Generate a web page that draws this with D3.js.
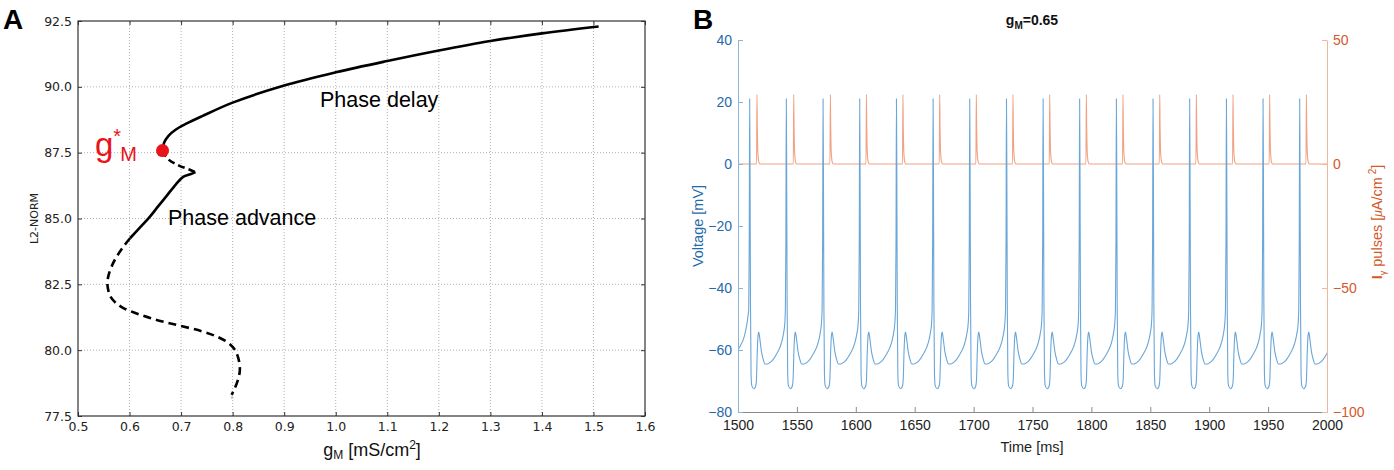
<!DOCTYPE html>
<html><head><meta charset="utf-8">
<script src="https://cdn.jsdelivr.net/npm/d3@7"></script>
<style>body{margin:0;background:#fff} svg{display:block}</style>
</head><body>
<svg id="c" width="1394" height="470"></svg>
<script>
// ---------- Panel A data ----------
const gTicks = [0.5,0.6,0.7,0.8,0.9,1.0,1.1,1.2,1.3,1.4,1.5,1.6];
const normTicks = [77.5,80.0,82.5,85.0,87.5,90.0,92.5];
const upperSolid = [[0.664,87.58],[0.667,87.88],[0.676,88.15],[0.69,88.38],[0.71,88.6],[0.74,88.88],[0.8,89.4],[0.9,90.05],[1.0,90.55],[1.1,90.98],[1.2,91.38],[1.3,91.74],[1.4,92.03],[1.51,92.29]];
const midDashed = [[0.664,87.58],[0.675,87.25],[0.695,87.02],[0.717,86.85],[0.728,86.76]];
const lowerSolid = [[0.728,86.76],[0.718,86.68],[0.704,86.58],[0.69,86.3],[0.672,85.86],[0.655,85.45],[0.64,85.08],[0.62,84.65],[0.601,84.25]];
const lowerDashed = [[0.601,84.25],[0.588,83.93],[0.574,83.52],[0.565,83.17],[0.559,82.82],[0.557,82.54],[0.559,82.25],[0.563,82.03],[0.573,81.8],[0.588,81.6],[0.61,81.42],[0.64,81.22],[0.67,81.06],[0.704,80.9],[0.74,80.72],[0.769,80.52],[0.79,80.3],[0.803,80.05],[0.811,79.7],[0.814,79.25],[0.81,78.85],[0.803,78.5],[0.798,78.3]];
const gStar = [0.664,87.58];
const branchEnd = [0.799,78.2];

// ---------- Panel B data ----------
const timeTicks = [1500,1550,1600,1650,1700,1750,1800,1850,1900,1950,2000];
const voltTicks = [-80,-60,-40,-20,0,20,40];
const pulseTicks = [-100,-50,0,50];
const spikeTimes = [1509.9,1541.0,1572.2,1603.3,1634.5,1665.6,1696.7,1727.9,1759.0,1790.0,1821.2,1852.3,1883.4,1914.6,1945.7,1976.8];
const pulseTimes = [1516.1,1547.3,1578.4,1609.0,1640.0,1671.2,1702.3,1733.4,1764.6,1795.7,1826.8,1858.0,1889.1,1920.2,1951.3,1982.5];
const voltLeadIn = [[1500,-60],[1502,-58.6],[1504.3,-56.8],[1506,-54.6],[1507.7,-51.3],[1508.8,-48]];
const spikeOffsets = [-0.8,-0.35,0,0.3,0.7,1.2,1.8,3.5,5.0,5.7,6.5,7.2,7.7,8.5,10,11.5,13,15,17.5,20,22.5,25.5,27.5,28.8,29.8];
const spikeVolts   = [-47,-25,21,0,-45,-68,-71.5,-72.5,-71.8,-70,-60,-55,-54.2,-56,-60.5,-63,-64.5,-64.5,-64,-63,-61.5,-59.3,-57,-54.5,-51.5];
const pulseOffsets = [-0.35,0,0.3,0.6,1.0,1.5,2.5];
const pulseAmps    = [0,28,15,7,3,1,0];

const svg = d3.select("#c");
const fA = "DejaVu Sans, sans-serif";
const fH = "Liberation Sans, Arial, sans-serif";

// ================= Panel A =================
const xA = d3.scaleLinear().domain([0.5,1.6]).range([78,645]);
const yA = d3.scaleLinear().domain([77.5,92.5]).range([416,21]);
const gA = svg.append("g");

gA.selectAll(".gx").data(gTicks.slice(1,-1)).join("line")
  .attr("x1",d=>xA(d)).attr("x2",d=>xA(d)).attr("y1",yA(77.5)).attr("y2",yA(92.5))
  .attr("stroke","#b0b0b0").attr("stroke-width",1).attr("stroke-dasharray","1,2");
gA.selectAll(".gy").data(normTicks.slice(1,-1)).join("line")
  .attr("y1",d=>yA(d)).attr("y2",d=>yA(d)).attr("x1",xA(0.5)).attr("x2",xA(1.6))
  .attr("stroke","#b0b0b0").attr("stroke-width",1).attr("stroke-dasharray","1,2");

function styleAxisA(g){
  g.select(".domain").remove();
  g.selectAll(".tick line").attr("stroke","#333");
  g.selectAll(".tick text").attr("font-family",fA).attr("font-size",12.5).attr("fill","#222");
}
gA.append("g").attr("transform",`translate(0,${yA(77.5)})`)
  .call(d3.axisBottom(xA).tickValues(gTicks).tickFormat(d3.format(".1f")).tickSizeInner(-4).tickSizeOuter(0).tickPadding(6))
  .call(styleAxisA);
gA.append("g").attr("transform",`translate(${xA(0.5)},0)`)
  .call(d3.axisLeft(yA).tickValues(normTicks).tickFormat(d3.format(".1f")).tickSizeInner(-4).tickSizeOuter(0).tickPadding(6))
  .call(styleAxisA);
gA.append("g").attr("transform",`translate(0,${yA(92.5)})`)
  .call(d3.axisTop(xA).tickValues(gTicks).tickFormat("").tickSizeInner(-4).tickSizeOuter(0))
  .call(styleAxisA);
gA.append("g").attr("transform",`translate(${xA(1.6)},0)`)
  .call(d3.axisRight(yA).tickValues(normTicks).tickFormat("").tickSizeInner(-4).tickSizeOuter(0))
  .call(styleAxisA);
gA.append("rect").attr("x",xA(0.5)).attr("y",yA(92.5))
  .attr("width",xA(1.6)-xA(0.5)).attr("height",yA(77.5)-yA(92.5))
  .attr("fill","none").attr("stroke","#333").attr("stroke-width",1.2);

const lineA = d3.line().x(d=>xA(d[0])).y(d=>yA(d[1])).curve(d3.curveCatmullRom.alpha(0.5));
[[upperSolid,null],[lowerSolid,null],[midDashed,"7,4"],[lowerDashed,"8,5"]].forEach(([data,dash])=>{
  gA.append("path").datum(data).attr("d",lineA).attr("fill","none")
    .attr("stroke","#000").attr("stroke-width",2.6)
    .attr("stroke-dasharray",dash);
});
gA.append("circle").attr("cx",xA(branchEnd[0])).attr("cy",yA(branchEnd[1])).attr("r",1.3).attr("fill","#bbb");
gA.append("circle").attr("cx",xA(gStar[0])).attr("cy",yA(gStar[1])).attr("r",6.5).attr("fill","#e8141c");

const gs = gA.append("text").attr("x",95).attr("y",156).attr("font-family",fH).attr("fill","#e8141c").attr("font-size",33);
gs.append("tspan").text("g");
gs.append("tspan").attr("font-size",20).attr("dy",-13).text("*");
gs.append("tspan").attr("font-size",20).attr("dy",18).attr("dx",-1).text("M");

gA.append("text").attr("x",320).attr("y",107).attr("font-family",fH).attr("font-size",21.5).attr("fill","#000").text("Phase delay");
gA.append("text").attr("x",168).attr("y",225).attr("font-family",fH).attr("font-size",21.5).attr("fill","#000").text("Phase advance");

gA.append("text").attr("transform","translate(38,218.5) rotate(-90)").attr("text-anchor","middle")
  .attr("font-family",fA).attr("font-size",11).attr("fill","#222").text("L2-NORM");

const xl = gA.append("text").attr("x",372).attr("y",456).attr("text-anchor","middle").attr("font-family",fH).attr("font-size",18).attr("fill","#111");
xl.append("tspan").text("g");
xl.append("tspan").attr("font-size",12).attr("dy",3).text("M");
xl.append("tspan").attr("dy",-3).text(" [mS/cm");
xl.append("tspan").attr("font-size",12).attr("dy",-7).text("2");
xl.append("tspan").attr("dy",7).text("]");

svg.append("text").attr("x",3).attr("y",29).attr("font-family",fH).attr("font-weight","bold").attr("font-size",28).text("A");
svg.append("text").attr("x",693).attr("y",29).attr("font-family",fH).attr("font-weight","bold").attr("font-size",28).text("B");

// ================= Panel B =================
const xB = d3.scaleLinear().domain([1500,2000]).range([738,1327]);
const yV = d3.scaleLinear().domain([-80,40]).range([412,40]);
const yI = d3.scaleLinear().domain([-100,50]).range([412,40]);
const gB = svg.append("g");
const cBlue = "#1f6aa8", cBlueLine = "#8ab5da", cOr = "#d4582a", cOrLine = "#f0b79c";

gB.append("clipPath").attr("id","clipB").append("rect")
  .attr("x",xB(1500)).attr("y",yV(40)-2).attr("width",xB(2000)-xB(1500)).attr("height",yV(-80)-yV(40)+2);

const pulsePts = [[1500,0]];
pulseTimes.forEach(p=>pulseOffsets.forEach((o,i)=>pulsePts.push([p+o,pulseAmps[i]])));
pulsePts.push([2000,0]);
const voltPts = voltLeadIn.slice();
spikeTimes.forEach(s=>spikeOffsets.forEach((o,i)=>voltPts.push([s+o,spikeVolts[i]])));

const cg = gB.append("g").attr("clip-path","url(#clipB)");
cg.append("path").datum(pulsePts)
  .attr("d",d3.line().x(d=>xB(d[0])).y(d=>yI(d[1])).curve(d3.curveMonotoneX))
  .attr("fill","none").attr("stroke","#f1a283").attr("stroke-width",1.1);
cg.append("path").datum(voltPts)
  .attr("d",d3.line().x(d=>xB(d[0])).y(d=>yV(d[1])).curve(d3.curveMonotoneX))
  .attr("fill","none").attr("stroke","#6aa6d8").attr("stroke-width",1.1);

const axB = gB.append("g").attr("transform",`translate(0,${yV(-80)})`)
  .call(d3.axisBottom(xB).tickValues(timeTicks).tickFormat(d3.format("d")).tickSizeInner(-5).tickSizeOuter(0).tickPadding(8));
axB.select(".domain").attr("stroke","#8a8a8a");
axB.selectAll(".tick line").attr("stroke","#8a8a8a");
axB.selectAll(".tick text").attr("font-family",fH).attr("font-size",14).attr("fill","#222");

const axL = gB.append("g").attr("transform",`translate(${xB(1500)},0)`)
  .call(d3.axisLeft(yV).tickValues(voltTicks).tickSizeInner(-5).tickSizeOuter(0).tickPadding(6));
axL.select(".domain").attr("stroke",cBlueLine);
axL.selectAll(".tick line").attr("stroke",cBlueLine);
axL.selectAll(".tick text").attr("font-family",fH).attr("font-size",14).attr("fill",cBlue);

const axR = gB.append("g").attr("transform",`translate(${xB(2000)},0)`)
  .call(d3.axisRight(yI).tickValues(pulseTicks).tickSizeInner(-5).tickSizeOuter(0).tickPadding(6));
axR.select(".domain").attr("stroke",cOrLine);
axR.selectAll(".tick line").attr("stroke",cOrLine);
axR.selectAll(".tick text").attr("font-family",fH).attr("font-size",14).attr("fill",cOr);

gB.append("text").attr("x",1032).attr("y",452).attr("text-anchor","middle").attr("font-family",fH).attr("font-size",14.5).attr("fill","#222").text("Time [ms]");
gB.append("text").attr("transform","translate(703,226) rotate(-90)").attr("text-anchor","middle")
  .attr("font-family",fH).attr("font-size",14.5).attr("fill",cBlue).text("Voltage [mV]");
const rl = gB.append("text").attr("transform","translate(1382,222) rotate(-90)").attr("text-anchor","middle")
  .attr("font-family",fH).attr("font-size",14.5).attr("fill",cOr);
rl.append("tspan").attr("font-weight","bold").text("I");
rl.append("tspan").attr("font-size",9).attr("dy",4).text("γ");
rl.append("tspan").attr("dy",-4).text(" pulses [");
rl.append("tspan").attr("font-style","italic").attr("font-size",12).text("μ");
rl.append("tspan").text("A/cm");
rl.append("tspan").attr("font-size",10).attr("dy",-6).text(" 2");
rl.append("tspan").attr("dy",6).text("]");

const tt = gB.append("text").attr("x",1032).attr("y",25).attr("text-anchor","middle").attr("font-family",fH).attr("font-weight","bold").attr("font-size",14).attr("fill","#111");
tt.append("tspan").text("g");
tt.append("tspan").attr("font-size",10).attr("dy",4).text("M");
tt.append("tspan").attr("dy",-4).text("=0.65");
</script>
</body></html>
